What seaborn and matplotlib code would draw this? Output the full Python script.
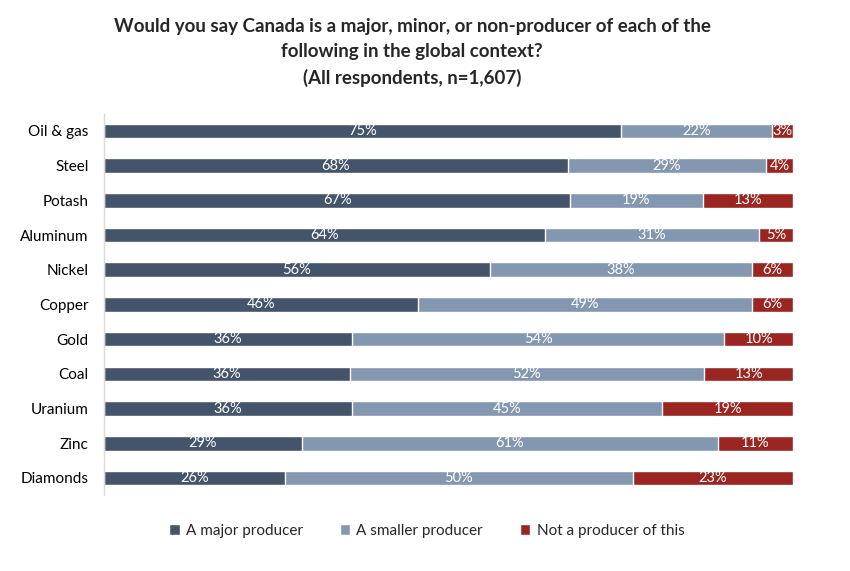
import numpy as np
import pandas as pd
import matplotlib
matplotlib.use("Agg")
import matplotlib.pyplot as plt
from matplotlib.patches import Patch
import seaborn as sns

# Survey data (percent of respondents)
items = ["Oil & gas", "Steel", "Potash", "Aluminum", "Nickel", "Copper",
         "Gold", "Coal", "Uranium", "Zinc", "Diamonds"]
major = [75, 68, 67, 64, 56, 46, 36, 36, 36, 29, 26]
smaller = [22, 29, 19, 31, 38, 49, 54, 52, 45, 61, 50]
not_prod = [3, 4, 13, 5, 6, 6, 10, 13, 19, 11, 23]

series_names = ["A major producer", "A smaller producer", "Not a producer of this"]
colors = ["#44546A", "#8497B0", "#9B2520"]

sns.set_theme(style="white")
plt.rcParams["font.family"] = ["Lato", "DejaVu Sans"]

df = pd.DataFrame({"item": items, "major": major, "smaller": smaller, "not": not_prod})
tot = df[["major", "smaller", "not"]].sum(axis=1)
# rescale so every bar reaches 100%
df["c1"] = df["major"] / tot * 100
df["c2"] = (df["major"] + df["smaller"]) / tot * 100
df["c3"] = 100.0

fig = plt.figure(figsize=(8.5, 5.71), dpi=100)
ax = fig.add_axes([0.1224, 0.1325, 0.8106, 0.6685])

# draw back to front to get stacked bars
sns.barplot(data=df, y="item", x="c3", color=colors[2], width=0.42, ax=ax, saturation=1)
sns.barplot(data=df, y="item", x="c2", color=colors[1], width=0.42, ax=ax, saturation=1)
sns.barplot(data=df, y="item", x="c1", color=colors[0], width=0.42, ax=ax, saturation=1)

# value labels centred in each segment
for i, row in df.iterrows():
    starts = [0, row["c1"], row["c2"]]
    ends = [row["c1"], row["c2"], row["c3"]]
    vals = [row["major"], row["smaller"], row["not"]]
    for s, e, v in zip(starts, ends, vals):
        ax.text((s + e) / 2, i, f"{v}%", ha="center", va="center",
                color="white", fontsize=10.5)

ax.set_xlim(0, 100)
ax.set_ylim(10.5, -0.5)
ax.set_xlabel("")
ax.set_ylabel("")
ax.set_xticks([])
ax.tick_params(axis="y", length=0, pad=11, labelsize=11, labelcolor="#000000")
for side in ["top", "right", "bottom"]:
    ax.spines[side].set_visible(False)
ax.spines["left"].set_color("#D9D9D9")
ax.spines["left"].set_linewidth(1)

fig.text(0.485, 0.968,
         "Would you say Canada is a major, minor, or non-producer of each of the\n"
         "following in the global context?\n(All respondents, n=1,607)",
         ha="center", va="top", fontsize=13.5, fontweight="bold", linespacing=1.58)

handles = [Patch(facecolor=c, label=n) for c, n in zip(colors, series_names)]
fig.legend(handles=handles, loc="center", bbox_to_anchor=(0.502, 0.07), ncol=3,
           frameon=False, fontsize=11, handlelength=0.7, handleheight=0.7,
           handletextpad=0.4, columnspacing=2.4)

fig.savefig("out.png", dpi=100)
